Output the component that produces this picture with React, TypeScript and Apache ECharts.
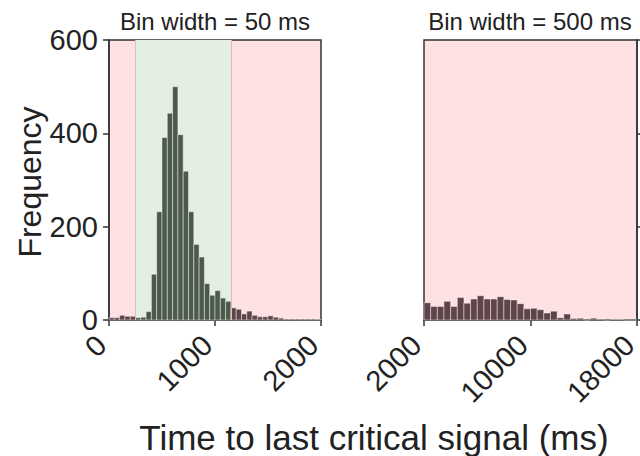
import React, { useEffect, useRef } from "react";
import * as echarts from "echarts";

// ---- Data ----
const leftBinWidth = 50;
const leftStart = 0;
const leftCounts = [
  5, 5, 10, 8, 8, 5, 6, 18, 98, 232, 391, 443, 500, 397, 319, 232, 162, 135, 78, 53,
  63, 47, 40, 26, 23, 13, 19, 10, 7, 7, 9, 6, 4, 2, 2, 2, 2, 2, 2, 1,
];
const rightBinWidth = 500;
const rightStart = 2000;
const rightCounts = [
  37, 29, 29, 40, 29, 48, 36, 45, 52, 45, 45, 50, 44, 43, 35, 24, 25, 22, 15, 19,
  5, 13, 3, 4, 0, 4, 2, 0, 1, 1, 0, 0,
];
const greenRegion = [250, 1150];
const leftTicks = [0, 1000, 2000];
const rightTicks = [2000, 10000, 18000];
const yTicks = [0, 200, 400, 600];
const titles = ["Bin width = 50 ms", "Bin width = 500 ms"];
const xLabel = "Time to last critical signal (ms)";
const yLabel = "Frequency";

const FONT = "Liberation Sans, Arial, Helvetica, sans-serif";
const PINK = "#fde1e3";
const GREEN = "#e3efe2";
const BAR_GREEN = "#4b5a4a";
const BAR_RED = "#5f4549";
const AXIS = "#333333";

function bins(start: number, width: number, counts: number[]) {
  return counts.map((c, i) => [start + i * width, start + (i + 1) * width, c]);
}

function makeRender(inGreen: (a: number, b: number) => boolean) {
  return (params: any, api: any) => {
    const x0 = api.value(0);
    const x1 = api.value(1);
    const v = api.value(2);
    const p0 = api.coord([x0, v]);
    const p1 = api.coord([x1, 0]);
    return {
      type: "rect",
      shape: { x: p0[0], y: p0[1], width: p1[0] - p0[0], height: p1[1] - p0[1] },
      style: {
        fill: inGreen(x0, x1) ? BAR_GREEN : BAR_RED,
        stroke: "rgba(255,255,255,0.55)",
        lineWidth: 0.8,
      },
    };
  };
}

export default function App() {
  const ref = useRef<HTMLDivElement>(null);
  useEffect(() => {
    if (!ref.current) return;
    const chart = echarts.init(ref.current, null, { renderer: "svg" });
    const axisLine = { show: true, lineStyle: { color: AXIS, width: 1.5 } };
    const tick = { show: true, inside: false, length: 6, lineStyle: { color: AXIS, width: 1.5 } };
    const fmt = (v: number) => String(v);
    const label = { fontSize: 29, color: "#222", fontFamily: FONT, formatter: fmt };
    const xLab = { ...label, rotate: 45, margin: 28, align: "right", verticalAlign: "bottom", lineHeight: 22 };
    chart.setOption({
      animation: false,
      grid: [
        { left: 109, top: 40, width: 212, height: 280, show: true, backgroundColor: PINK, borderColor: AXIS, borderWidth: 1.5, outerBoundsMode: "none", containLabel: false },
        { left: 424, top: 40, width: 213, height: 280, show: true, backgroundColor: PINK, borderColor: AXIS, borderWidth: 1.5, outerBoundsMode: "none", containLabel: false },
      ],
      xAxis: [
        {
          gridIndex: 0, type: "value", min: leftTicks[0], max: leftTicks[2], interval: 1000,
          axisLine, axisTick: tick, splitLine: { show: false },
          axisLabel: xLab,
        },
        {
          gridIndex: 1, type: "value", min: rightTicks[0], max: rightTicks[2],
          axisLine, splitLine: { show: false },
          axisTick: { ...tick, customValues: rightTicks },
          axisLabel: { ...xLab, customValues: rightTicks },
        },
      ],
      yAxis: [
        {
          gridIndex: 0, type: "value", min: yTicks[0], max: yTicks[3], interval: 200,
          axisLine, axisTick: tick, splitLine: { show: false },
          axisLabel: { ...label, margin: 11 },
        },
        {
          gridIndex: 1, type: "value", min: yTicks[0], max: yTicks[3], interval: 200,
          position: "right", axisLine, axisTick: tick, axisLabel: { show: false },
          splitLine: { show: false },
        },
      ],
      series: [
        {
          type: "custom", xAxisIndex: 0, yAxisIndex: 0,
          data: bins(leftStart, leftBinWidth, leftCounts),
          encode: { x: [0, 1], y: 2 },
          renderItem: makeRender((a, b) => a >= greenRegion[0] && b <= greenRegion[1]),
          markArea: {
            silent: true,
            itemStyle: { color: GREEN },
            data: [[{ xAxis: greenRegion[0] }, { xAxis: greenRegion[1] }]],
          },
          markLine: {
            silent: true, symbol: "none", label: { show: false },
            lineStyle: { color: "#e2c0a8", width: 1, type: "solid" },
            data: [{ xAxis: greenRegion[0] }, { xAxis: greenRegion[1] }],
          },
        },
        {
          type: "custom", xAxisIndex: 1, yAxisIndex: 1,
          data: bins(rightStart, rightBinWidth, rightCounts),
          encode: { x: [0, 1], y: 2 },
          renderItem: makeRender(() => false),
        },
      ],
      graphic: [
        { type: "text", x: 215, y: 21, style: { text: titles[0], font: `24px ${FONT}`, fill: "#222", align: "center", verticalAlign: "middle" } },
        { type: "text", x: 530, y: 21, style: { text: titles[1], font: `24px ${FONT}`, fill: "#222", align: "center", verticalAlign: "middle" } },
        { type: "text", x: 30, y: 182, rotation: Math.PI / 2, style: { text: yLabel, font: `32px ${FONT}`, fill: "#222", align: "center", verticalAlign: "middle" } },
        { type: "text", x: 374, y: 437, style: { text: xLabel, font: `35px ${FONT}`, fill: "#222", align: "center", verticalAlign: "middle" } },
      ],
    });
    return () => chart.dispose();
  }, []);
  return <div ref={ref} style={{ position: "absolute", left: 0, top: 0, width: 640, height: 456 }} />;
}
